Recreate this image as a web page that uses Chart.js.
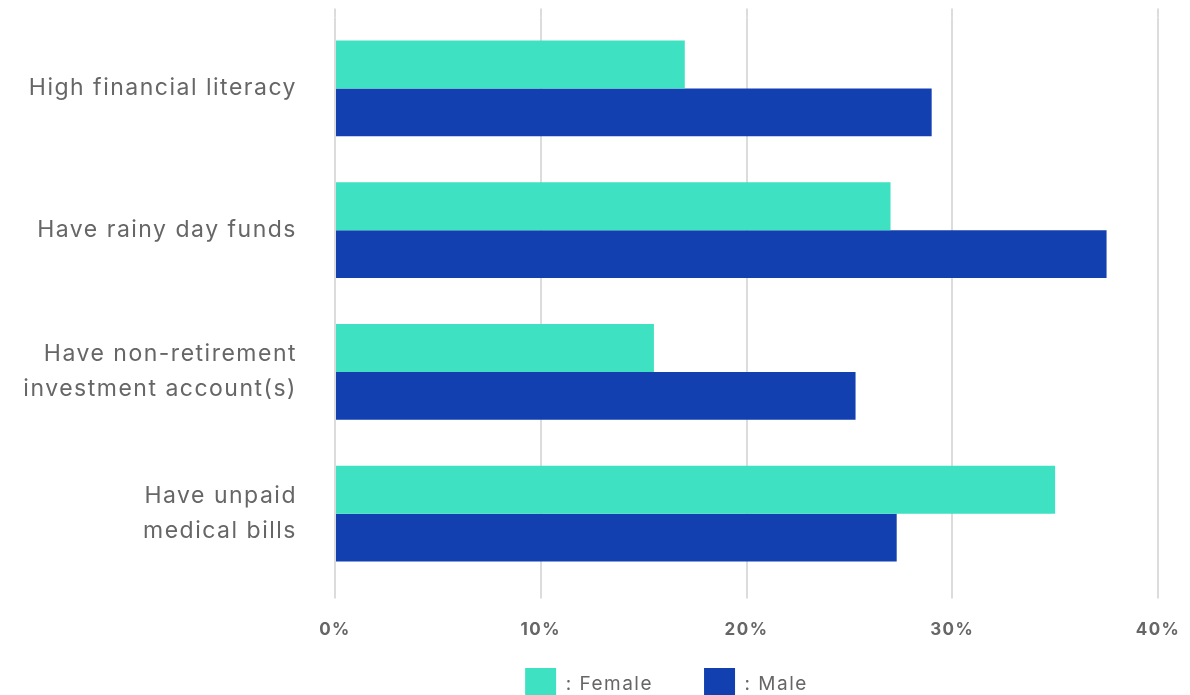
<!DOCTYPE html>
<html>
<head>
<meta charset="utf-8">
<script src="https://cdn.jsdelivr.net/npm/chart.js@4/dist/chart.umd.min.js"></script>
<style>
  html, body { margin: 0; padding: 0; background: #fff; overflow: hidden; }
  #wrap { width: 1190px; height: 710px; }
</style>
</head>
<body>
<div id="wrap"><canvas id="chart"></canvas></div>
<script>
// Data
const categories = [
    'High financial literacy',
    'Have rainy day funds',
    ['Have non-retirement', 'investment account(s)'],
    ['Have unpaid', 'medical bills']
];
const femaleValues = [17, 27, 15.5, 35];
const maleValues = [29, 37.5, 25.3, 27.3];
const xTicks = [0, 10, 20, 30, 40];

const FONT = 'Inter, "Open Sans", sans-serif';
const GREY = '#666';
const LEGEND_SHIFT = 87.5;

// wider letter spacing so the text width is closer to the original font
const spacing = {
    id: 'spacing',
    beforeUpdate(chart) { chart.ctx.letterSpacing = '1.5px'; },
    beforeDraw(chart) { chart.ctx.letterSpacing = '1.5px'; }
};

// legend is centred a bit to the right of the page centre in the original
const legendShift = {
    id: 'legendShift',
    afterLayout(chart) {
        chart.legend.left += LEGEND_SHIFT;
        chart.legend.right += LEGEND_SHIFT;
    }
};

// extends the vertical grid lines a little above the plot
const gridTopExtend = {
    id: 'gridTopExtend',
    beforeDatasetsDraw(chart) {
        const x = chart.scales.x;
        const ctx = chart.ctx;
        ctx.save();
        ctx.strokeStyle = '#dcdcdc';
        ctx.lineWidth = 2;
        xTicks.forEach(function(v) {
            const px = Math.round(x.getPixelForValue(v));
            ctx.beginPath();
            ctx.moveTo(px, chart.chartArea.top - 9);
            ctx.lineTo(px, chart.chartArea.top);
            ctx.stroke();
        });
        ctx.restore();
    }
};

new Chart(document.getElementById('chart').getContext('2d'), {
    type: 'bar',
    data: {
        labels: categories,
        datasets: [
            { label: 'Female', data: femaleValues, backgroundColor: '#3ee2c2' },
            { label: 'Male', data: maleValues, backgroundColor: '#1240b0' }
        ]
    },
    options: {
        indexAxis: 'y',
        responsive: true,
        maintainAspectRatio: false,
        animation: false,
        categoryPercentage: 0.674,
        barPercentage: 1.0,
        layout: { padding: { top: 17.5, left: 0, right: 32, bottom: 0 } },
        scales: {
            x: {
                min: 0,
                max: 40,
                afterBuildTicks: function(scale) {
                    scale.ticks = xTicks.map(v => ({ value: v }));
                },
                afterFit: function(scale) {
                    scale.height = 73.5;
                    scale.paddingLeft = 0;
                    scale.paddingRight = 0;
                },
                border: { display: false },
                grid: { color: '#dcdcdc', lineWidth: 2, tickLength: 14, drawTicks: true },
                ticks: {
                    padding: 21,
                    color: GREY,
                    font: { family: FONT, size: 17, weight: 'bold' },
                    callback: v => v + '%'
                }
            },
            y: {
                afterFit: function(scale) {
                    scale.width = 335;
                    scale.paddingTop = 0;
                    scale.paddingBottom = 0;
                },
                border: { display: false },
                grid: { display: false, drawTicks: false },
                ticks: {
                    padding: 38,
                    color: GREY,
                    font: { family: FONT, size: 23, lineHeight: 1.52 }
                }
            }
        },
        plugins: {
            tooltip: { enabled: false },
            legend: {
                position: 'bottom',
                labels: {
                    boxWidth: 31,
                    boxHeight: 32,
                    padding: 10,
                    color: GREY,
                    font: { family: FONT, size: 19 },
                    generateLabels: function(chart) {
                        return Chart.defaults.plugins.legend.labels.generateLabels(chart).map(function(item, i) {
                            item.text = ': ' + item.text + (i === 0 ? '      ' : '');
                            item.lineWidth = 0;
                            return item;
                        });
                    }
                }
            }
        }
    },
    plugins: [spacing, legendShift, gridTopExtend]
});
</script>
</body>
</html>
